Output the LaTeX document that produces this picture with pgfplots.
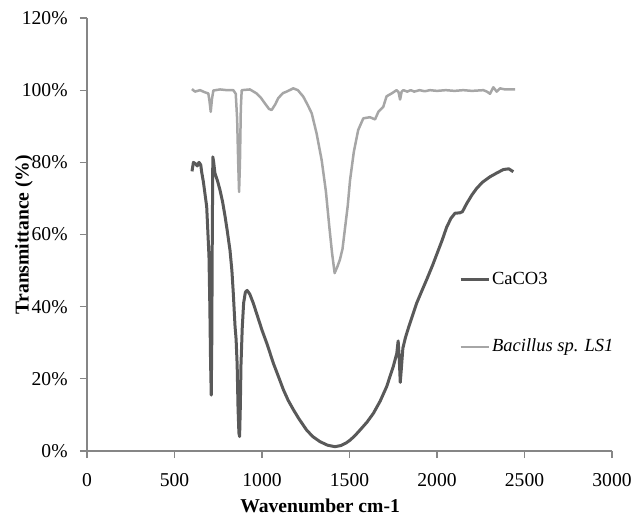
\documentclass[border=0pt]{standalone}
\usepackage{fontspec}
\setmainfont{Liberation Serif}
\usepackage{pgfplots}
\pgfplotsset{compat=1.18}

\definecolor{darkline}{HTML}{595959}
\definecolor{lightline}{HTML}{A6A6A6}
\definecolor{axisgray}{HTML}{868686}

\newcommand{\chartfont}{\fontsize{9.8bp}{11bp}\selectfont}

\begin{document}
\begin{tikzpicture}
\useasboundingbox (-43.5bp,-33.5bp) rectangle (276.5bp,225.5bp);
\begin{axis}[
    at={(0,0)}, anchor=origin,
    scale only axis,
    width=262.5bp, height=216.5bp,
    xmin=0, xmax=3000,
    ymin=0, ymax=120,
    xtick={0,500,...,3000},
    ytick={0,20,...,120},
    axis x line=bottom, axis y line=left,
    axis line style={-, draw=axisgray, line width=0.6bp},
    tick style={draw=axisgray, line width=0.6bp},
    tick align=outside,
    major tick length=3.5bp,
    /pgf/number format/assume math mode=true,
    /pgf/number format/set thousands separator={},
    yticklabel={\pgfmathprintnumber{\tick}\%},
    every tick label/.append style={font=\chartfont},
    xticklabel style={anchor=north, inner sep=0pt, yshift=-7.5bp},
    yticklabel style={anchor=east, inner sep=0pt, xshift=-6bp},
    xlabel={Wavenumber cm-1},
    ylabel={Transmittance (\%)},
    xlabel style={at={(axis description cs:0.444,-0.127)}, anchor=center, font=\chartfont\bfseries},
    ylabel style={at={(axis description cs:-0.12,0.5)}, anchor=center, font=\chartfont\bfseries},
    legend style={at={(axis description cs:0.708,0.318)}, anchor=west,
        draw=none, fill=none, inner sep=0pt,
        font=\fontsize{9.25bp}{10bp}\selectfont,
        row sep=24bp,
        nodes={inner sep=1bp}},
    legend cell align=left,
    legend image code/.code={\draw[#1] (0bp,0bp) -- (14bp,0bp);},
    clip=false,
]
\addplot[darkline, line width=1.5bp, line join=round] coordinates {
(600,77.5) (608,80) (620,79.6) (630,79) (640,80) (650,79.3) (655,77.4) (665,74.6)
(684,67.7) (697,54) (702,40) (706,25) (710,15.5) (713,30) (716,60) (719,81.5)
(724,80) (731,77) (745,75) (760,72.3) (775,69) (789,65) (800,61.5) (817,55.7)
(828,50) (836,43.7) (846,34.5) (852,31) (858,24) (863,12) (868,5) (872,4)
(876,12) (880,24) (887,34) (895,41) (905,44) (915,44.5) (930,43.5) (950,41)
(970,38) (1000,33.5) (1030,29.5) (1065,24.3) (1095,20.5) (1122,17) (1150,14)
(1180,11.4) (1210,9) (1255,5.8) (1290,4) (1331,2.6) (1375,1.6) (1417,1.2)
(1450,1.5) (1480,2.2) (1503,3) (1530,4.2) (1560,5.8) (1600,8) (1636,10.4)
(1675,13.8) (1712,17.8) (1750,23.4) (1770,27) (1778,30.5) (1784,26) (1790,19)
(1795,22) (1805,28.5) (1820,31.5) (1836,34) (1860,37.5) (1884,41) (1910,44)
(1941,47.5) (1975,51.5) (2008,55.7) (2030,58.5) (2055,62) (2080,64.5) (2103,65.9)
(2130,66) (2145,66.3) (2170,68.6) (2200,71) (2227,72.8) (2260,74.5) (2303,76)
(2340,77) (2379,78) (2410,78.2) (2436,77.4)
};
\addlegendentry{CaCO3}
\addplot[lightline, line width=1.25bp, line join=round] coordinates {
(600,100.3) (617,99.6) (646,100) (674,99.4) (693,99.1) (700,97) (707,94) (714,97.5)
(722,99.9) (760,100.2) (800,100) (836,100) (850,99) (858,92) (864,80) (869,71.8)
(874,80) (879,95) (884,100) (931,100.2) (969,99.1) (995,97.8) (1017,96.3)
(1040,94.8) (1055,94.5) (1075,96) (1093,97.8) (1120,99.2) (1141,99.6) (1179,100.5)
(1205,100) (1236,98.2) (1260,96) (1284,93.6) (1312,88) (1341,80.6) (1365,72)
(1385,62) (1400,55) (1415,49.3) (1430,51) (1445,53) (1460,56) (1475,62) (1490,68)
(1503,75) (1525,83) (1550,89) (1579,92.2) (1617,92.5) (1646,91.9) (1665,94)
(1693,95.4) (1712,98.3) (1741,99.1) (1769,100) (1780,99.5) (1789,97.4) (1798,99.6)
(1808,100) (1830,99.6) (1850,100) (1870,99.6) (1900,100) (1930,99.7) (1960,100)
(2000,99.8) (2050,100) (2100,99.8) (2150,100) (2200,99.8) (2265,100) (2285,99.6)
(2303,99) (2322,100.8) (2341,99.6) (2360,100.5) (2389,100.2) (2446,100.2)
};
\addlegendentry{\textit{Bacillus sp. LS1}}
\end{axis}
\end{tikzpicture}
\end{document}
